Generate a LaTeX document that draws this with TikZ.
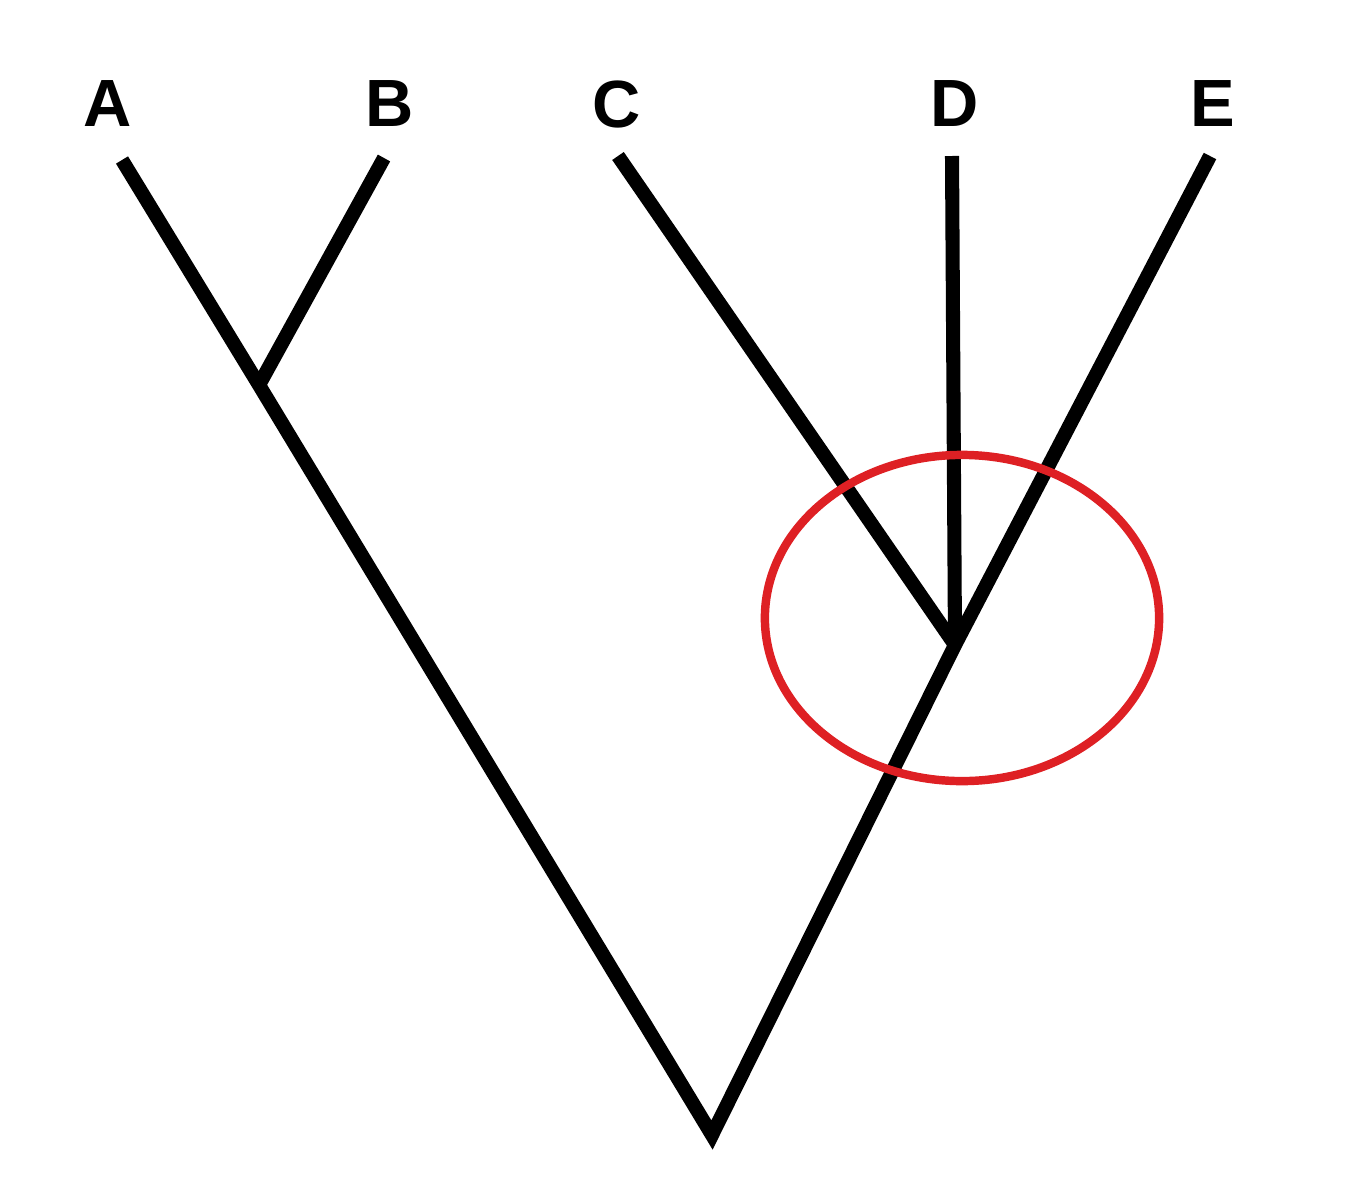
\documentclass[tikz,border=0pt]{standalone}
\usepackage{fontspec}
\setmainfont{Liberation Sans}
\usetikzlibrary{shapes.geometric}
\begin{document}
\begin{tikzpicture}[x=0.01cm,y=-0.01cm,
  branch/.style={line width=4pt,black,line join=miter},
  lbl/.style={font=\fontsize{19}{22}\selectfont\bfseries,inner sep=0pt},
  ring/.style={line width=2.4pt,draw={rgb,255:red,222;green,32;blue,36}}]
\useasboundingbox (0,0) rectangle (1358,1200);
\node[lbl] (la) at (108,104) {A};
\node[lbl] (lb) at (390,104) {B};
\node[lbl] (lc) at (617,104) {C};
\node[lbl] (ld) at (955,104) {D};
\node[lbl] (le) at (1213,104) {E};
\coordinate (a) at (122,160);
\coordinate (b) at (384,158);
\coordinate (c) at (618,156);
\coordinate (d) at (952,156);
\coordinate (e) at (1210,156);
\coordinate (ab) at (259,385);
\coordinate (cde) at (955,645);
\coordinate (root) at (712,1135);
\draw[branch] (a) -- (ab) -- (root) -- (cde) -- (e);
\draw[branch] (b) -- (ab);
\draw[branch] (c) -- (cde);
\draw[branch] (d) -- (cde);
\node[ring,ellipse,inner sep=0pt,minimum width=3.94cm,minimum height=3.26cm,draw] (circ) at (962,618) {};
\end{tikzpicture}
\end{document}
